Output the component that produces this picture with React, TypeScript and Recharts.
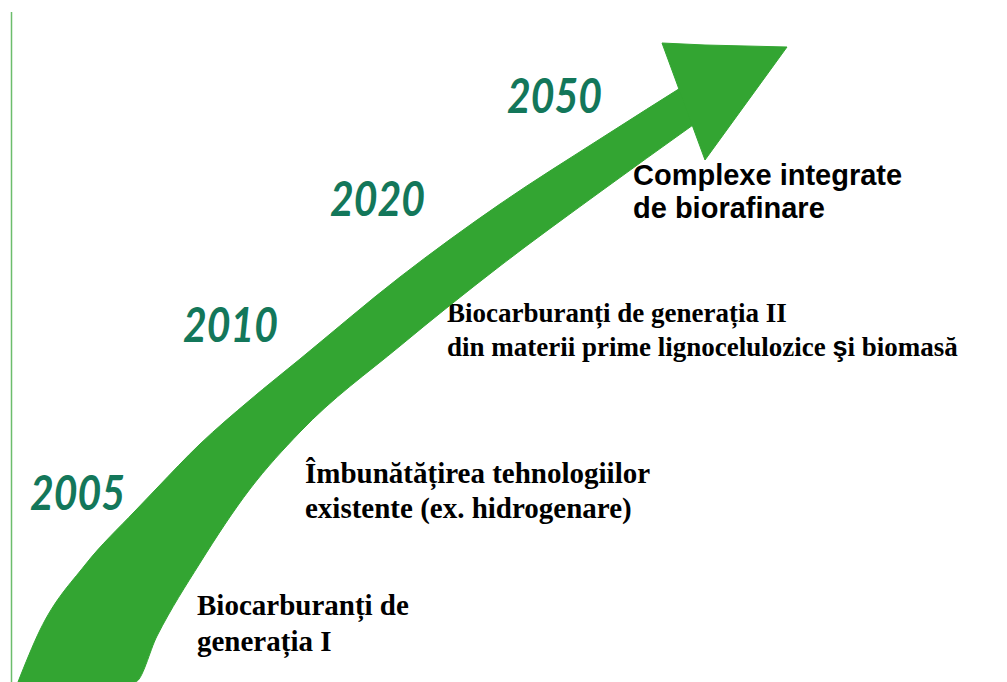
import React from 'react';
import { ComposedChart, Area, XAxis, YAxis, ReferenceLine } from 'recharts';

// arrow shaft: x position and the height of the two edges above the bottom
const shaftX = [18, 40, 85, 135, 157, 200, 250, 300, 400, 500, 600, 693];
const shaftTop = [0, 52, 117, 171, 194, 238, 282, 323, 405, 478, 543, 602];
const shaftBottom = [0, 0, 0, 0, 46, 119, 193, 250, 336, 416, 490, 557];

// arrow head (triangle)
const headX = [662, 705, 787];
const headTop = [639, 637, 635];
const headBottom = [639, 522, 635];

const years = ['2005', '2010', '2020', '2050'];
const stages = [
    ['Biocarburanți de', 'generația I'],
    ['Îmbunătățirea tehnologiilor', 'existente (ex. hidrogenare)'],
    ['Biocarburanți de generația II', 'din materii prime lignocelulozice şi biomasă'],
    ['Complexe integrate', 'de biorafinare'],
];

const W = 1007;
const H = 682;
const GREEN = '#33a532';
const YEAR_COLOR = '#13775a';

// where the labels sit (pixel coords: left, baseline of first line)
const yearPos = [[30, 510], [183, 342], [330, 216], [507, 113]];
const stagePos = [[197, 615, 29, 36], [305, 483, 29, 35], [447, 322, 27, 34], [633, 185, 29, 33]];

const shaftData = shaftX.map((x, i) => ({ x, band: [shaftBottom[i], shaftTop[i]] }));
const headData = headX.map((x, i) => ({ x, band: [headBottom[i], headTop[i]] }));

function Labels() {
    return (
        <g>
            {years.map((y, i) => (
                <text
                    key={y}
                    x={yearPos[i][0]}
                    y={yearPos[i][1]}
                    fill={YEAR_COLOR}
                    fontFamily="Lato, 'Noto Sans', sans-serif"
                    fontStyle="italic"
                    fontWeight={700}
                    fontSize={47}
                    textLength={95}
                    lengthAdjust="spacingAndGlyphs"
                >
                    {y}
                </text>
            ))}
            {stages.map((lines, i) => {
                const [x, y, size, lh] = stagePos[i];
                const sans = i === 3;
                return (
                    <text
                        key={i}
                        x={x}
                        y={y}
                        fill="#000"
                        fontWeight="bold"
                        fontSize={size}
                        fontFamily={sans ? "'Liberation Sans', Arial, sans-serif" : "'Liberation Serif', 'Times New Roman', serif"}
                    >
                        {lines.map((line, j) => {
                            const parts = line.split('ş');
                            return (
                                <tspan key={j} x={x} dy={j === 0 ? 0 : lh}>
                                    {parts.length > 1 ? (
                                        <>
                                            {parts[0]}
                                            <tspan fontFamily="'Liberation Sans', Arial, sans-serif">ş</tspan>
                                            {parts[1]}
                                        </>
                                    ) : line}
                                </tspan>
                            );
                        })}
                    </text>
                );
            })}
        </g>
    );
}

export default function App() {
    return (
        <div style={{ position: 'absolute', left: 0, top: 0, width: W, height: H, background: '#fff' }}>
            <ComposedChart width={W} height={H} margin={{ top: 0, right: 0, bottom: 0, left: 0 }}>
                <XAxis type="number" dataKey="x" domain={[0, W]} hide allowDataOverflow />
                <YAxis type="number" domain={[0, H]} hide allowDataOverflow />
                <ReferenceLine
                    segment={[{ x: 11.5, y: 0 }, { x: 11.5, y: H - 12 }]}
                    stroke="#6cbd6c"
                    strokeWidth={1.5}
                />
                <Area
                    data={shaftData}
                    dataKey="band"
                    type="monotone"
                    fill={GREEN}
                    fillOpacity={1}
                    stroke={GREEN}
                    strokeWidth={1}
                    isAnimationActive={false}
                    dot={false}
                    activeDot={false}
                />
                <Area
                    data={headData}
                    dataKey="band"
                    type="linear"
                    fill={GREEN}
                    fillOpacity={1}
                    stroke={GREEN}
                    strokeWidth={1}
                    isAnimationActive={false}
                    dot={false}
                    activeDot={false}
                />
                <Labels />
            </ComposedChart>
        </div>
    );
}
